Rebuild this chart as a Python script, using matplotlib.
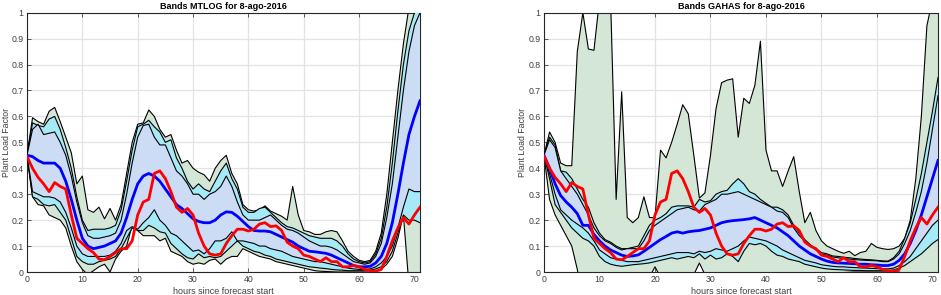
import numpy as np
import matplotlib
matplotlib.use("Agg")
import matplotlib.pyplot as plt

hours = np.arange(72)

observed = [0.445, 0.40, 0.365, 0.34, 0.31, 0.345, 0.33, 0.32, 0.22, 0.13,
            0.11, 0.09, 0.075, 0.05, 0.047, 0.06, 0.075, 0.09, 0.09, 0.12,
            0.22, 0.27, 0.28, 0.38, 0.39, 0.36, 0.31, 0.25, 0.23, 0.245,
            0.22, 0.15, 0.10, 0.07, 0.065, 0.07, 0.11, 0.14, 0.165, 0.165,
            0.158, 0.165, 0.185, 0.19, 0.175, 0.178, 0.16, 0.115, 0.10, 0.09,
            0.065, 0.06, 0.05, 0.04, 0.055, 0.04, 0.04, 0.02, 0.02, 0.025,
            0.02, 0.01, 0.005, 0.003, 0.01, 0.06, 0.12, 0.17, 0.21, 0.185,
            0.22, 0.25]

# ---------------- MTLOG ----------------
mt_median = [0.45, 0.445, 0.43, 0.42, 0.42, 0.42, 0.40, 0.35, 0.28, 0.20,
             0.13, 0.10, 0.09, 0.095, 0.10, 0.11, 0.12, 0.15, 0.21, 0.28,
             0.34, 0.37, 0.38, 0.37, 0.35, 0.32, 0.29, 0.26, 0.245, 0.225,
             0.205, 0.195, 0.19, 0.19, 0.20, 0.22, 0.232, 0.23, 0.215, 0.195,
             0.175, 0.16, 0.158, 0.158, 0.155, 0.145, 0.135, 0.125, 0.115, 0.10,
             0.09, 0.08, 0.078, 0.075, 0.072, 0.065, 0.055, 0.045, 0.035, 0.025,
             0.02, 0.02, 0.022, 0.035, 0.06, 0.11, 0.19, 0.30, 0.42, 0.53,
             0.60, 0.66]
mt_q90_hi = [0.45, 0.595, 0.58, 0.57, 0.62, 0.635, 0.58, 0.52, 0.46, 0.34,
             0.37, 0.24, 0.23, 0.25, 0.205, 0.245, 0.20, 0.26, 0.38, 0.50,
             0.57, 0.575, 0.625, 0.60, 0.55, 0.52, 0.53, 0.47, 0.42, 0.43,
             0.40, 0.385, 0.375, 0.35, 0.40, 0.43, 0.45, 0.38, 0.34, 0.26,
             0.24, 0.235, 0.24, 0.255, 0.235, 0.225, 0.215, 0.20, 0.33, 0.22,
             0.16, 0.155, 0.145, 0.145, 0.155, 0.16, 0.155, 0.12, 0.08, 0.06,
             0.045, 0.04, 0.045, 0.08, 0.15, 0.30, 0.50, 0.70, 0.88, 1.02,
             1.05, 1.05]
mt_q80_hi = [0.45, 0.575, 0.565, 0.56, 0.59, 0.60, 0.55, 0.48, 0.40, 0.29,
             0.20, 0.16, 0.165, 0.165, 0.165, 0.17, 0.18, 0.24, 0.35, 0.47,
             0.56, 0.57, 0.585, 0.56, 0.54, 0.50, 0.51, 0.44, 0.40, 0.35,
             0.32, 0.34, 0.32, 0.31, 0.35, 0.39, 0.42, 0.36, 0.32, 0.25,
             0.23, 0.23, 0.245, 0.25, 0.23, 0.21, 0.19, 0.175, 0.17, 0.16,
             0.15, 0.14, 0.135, 0.13, 0.13, 0.13, 0.12, 0.10, 0.07, 0.05,
             0.04, 0.035, 0.04, 0.07, 0.13, 0.25, 0.42, 0.62, 0.80, 0.93,
             1.0, 1.02]
mt_q50_hi = [0.45, 0.55, 0.57, 0.53, 0.535, 0.54, 0.50, 0.45, 0.37, 0.27,
             0.19, 0.14, 0.13, 0.13, 0.135, 0.14, 0.15, 0.20, 0.30, 0.42,
             0.52, 0.565, 0.57, 0.52, 0.49, 0.49, 0.44, 0.39, 0.37, 0.34,
             0.30, 0.30, 0.28, 0.30, 0.31, 0.33, 0.37, 0.33, 0.27, 0.22,
             0.20, 0.20, 0.20, 0.21, 0.22, 0.20, 0.18, 0.165, 0.16, 0.15,
             0.135, 0.12, 0.11, 0.10, 0.10, 0.095, 0.085, 0.07, 0.055, 0.04,
             0.035, 0.03, 0.035, 0.06, 0.11, 0.21, 0.34, 0.52, 0.70, 0.85,
             0.95, 1.0]
mt_q50_lo = [0.45, 0.31, 0.30, 0.29, 0.29, 0.285, 0.27, 0.23, 0.17, 0.10,
             0.07, 0.06, 0.06, 0.06, 0.06, 0.065, 0.08, 0.11, 0.16, 0.175,
             0.165, 0.19, 0.21, 0.24, 0.20, 0.18, 0.15, 0.14, 0.12, 0.10,
             0.08, 0.085, 0.07, 0.09, 0.12, 0.12, 0.13, 0.155, 0.12, 0.12,
             0.115, 0.11, 0.10, 0.10, 0.09, 0.085, 0.08, 0.07, 0.06, 0.055,
             0.05, 0.045, 0.04, 0.04, 0.035, 0.03, 0.025, 0.02, 0.015, 0.012,
             0.01, 0.01, 0.012, 0.02, 0.035, 0.06, 0.10, 0.17, 0.25, 0.32,
             0.31, 0.31]
mt_q80_lo = [0.45, 0.29, 0.28, 0.26, 0.255, 0.26, 0.23, 0.20, 0.13, 0.06,
             0.04, 0.03, 0.03, 0.04, 0.045, 0.05, 0.06, 0.09, 0.13, 0.17,
             0.16, 0.16, 0.18, 0.17, 0.155, 0.15, 0.11, 0.09, 0.07, 0.055,
             0.05, 0.07, 0.055, 0.06, 0.055, 0.06, 0.08, 0.10, 0.12, 0.10,
             0.09, 0.08, 0.075, 0.065, 0.06, 0.05, 0.045, 0.04, 0.035, 0.03,
             0.025, 0.02, 0.018, 0.015, 0.013, 0.01, 0.008, 0.007, 0.005, 0.005,
             0.005, 0.005, 0.007, 0.012, 0.02, 0.04, 0.08, 0.15, 0.22, 0.20,
             0.20, 0.19]
mt_q90_lo = [0.45, 0.29, 0.26, 0.255, 0.22, 0.21, 0.20, 0.17, 0.10, 0.04,
             0.01, -0.01, 0.005, 0.02, 0.03, 0.0, 0.05, 0.08, 0.10, 0.18,
             0.16, 0.14, 0.14, 0.14, 0.12, 0.13, 0.08, 0.07, 0.06, 0.04,
             0.03, 0.035, 0.03, 0.045, 0.05, 0.03, 0.05, 0.06, 0.06, 0.09,
             0.08, 0.07, 0.06, 0.055, 0.05, 0.04, 0.035, 0.03, 0.025, 0.02,
             0.015, 0.01, 0.005, 0.003, 0.002, 0.001, 0.0, 0.0, 0.0, 0.0,
             0.0, 0.0, 0.0, 0.002, 0.01, 0.03, 0.06, 0.13, 0.22, -0.05,
             -0.05, -0.05]

# ---------------- GAHAS ----------------
ga_median = [0.45, 0.40, 0.34, 0.295, 0.27, 0.25, 0.225, 0.18, 0.18, 0.145,
             0.12, 0.10, 0.085, 0.075, 0.065, 0.06, 0.062, 0.066, 0.08, 0.095,
             0.11, 0.125, 0.137, 0.15, 0.155, 0.15, 0.155, 0.158, 0.16, 0.165,
             0.17, 0.18, 0.19, 0.195, 0.198, 0.20, 0.202, 0.205, 0.21, 0.20,
             0.19, 0.18, 0.17, 0.155, 0.14, 0.12, 0.10, 0.085, 0.07, 0.06,
             0.05, 0.042, 0.037, 0.035, 0.034, 0.033, 0.032, 0.03, 0.03, 0.028,
             0.027, 0.025, 0.025, 0.03, 0.045, 0.07, 0.11, 0.16, 0.22, 0.29,
             0.36, 0.43]
ga_q90_hi = [0.45, 0.54, 0.50, 0.42, 0.41, 0.41, 0.85, 1.0, 0.86, 0.855,
             1.05, 1.05, 1.05, 0.28, 0.695, 0.21, 0.19, 0.21, 0.29, 0.21,
             0.21, 0.47, 0.44, 0.50, 0.57, 0.645, 0.61, 0.45, 0.285, 0.305,
             0.45, 0.63, 0.73, 0.74, 0.745, 0.52, 0.67, 0.65, 0.72, 0.89,
             0.47, 0.39, 0.39, 0.33, 0.39, 0.445, 0.31, 0.19, 0.23, 0.16,
             0.12, 0.10, 0.09, 0.08, 0.072, 0.08, 0.063, 0.075, 0.08, 0.11,
             0.095, 0.09, 0.087, 0.09, 0.10, 0.13, 0.20, 0.36, 0.60, 0.95,
             1.05, 1.05]
ga_q80_hi = [0.45, 0.52, 0.49, 0.39, 0.385, 0.36, 0.32, 0.28, 0.25, 0.19,
             0.15, 0.125, 0.115, 0.10, 0.09, 0.09, 0.095, 0.10, 0.14, 0.18,
             0.20, 0.21, 0.225, 0.25, 0.255, 0.255, 0.255, 0.25, 0.28, 0.27,
             0.275, 0.30, 0.31, 0.315, 0.34, 0.36, 0.34, 0.31, 0.30, 0.28,
             0.265, 0.25, 0.25, 0.24, 0.22, 0.18, 0.15, 0.125, 0.105, 0.09,
             0.075, 0.07, 0.062, 0.06, 0.057, 0.055, 0.052, 0.05, 0.048, 0.047,
             0.045, 0.043, 0.042, 0.055, 0.08, 0.13, 0.19, 0.28, 0.38, 0.50,
             0.62, 0.75]
ga_q50_hi = [0.45, 0.51, 0.48, 0.39, 0.36, 0.33, 0.30, 0.26, 0.22, 0.17,
             0.14, 0.12, 0.11, 0.095, 0.085, 0.09, 0.09, 0.09, 0.12, 0.16,
             0.18, 0.195, 0.21, 0.225, 0.24, 0.245, 0.25, 0.24, 0.235, 0.26,
             0.27, 0.28, 0.30, 0.30, 0.305, 0.31, 0.30, 0.29, 0.28, 0.27,
             0.26, 0.25, 0.235, 0.23, 0.21, 0.17, 0.14, 0.12, 0.10, 0.085,
             0.07, 0.065, 0.058, 0.055, 0.052, 0.05, 0.048, 0.046, 0.045, 0.044,
             0.043, 0.04, 0.04, 0.05, 0.07, 0.11, 0.16, 0.23, 0.31, 0.42,
             0.55, 0.68]
ga_q50_lo = [0.45, 0.38, 0.30, 0.24, 0.22, 0.20, 0.185, 0.17, 0.15, 0.12,
             0.085, 0.07, 0.055, 0.05, 0.045, 0.04, 0.04, 0.04, 0.045, 0.05,
             0.055, 0.06, 0.065, 0.07, 0.075, 0.075, 0.075, 0.07, 0.08, 0.075,
             0.08, 0.09, 0.085, 0.08, 0.09, 0.10, 0.12, 0.135, 0.13, 0.125,
             0.12, 0.11, 0.10, 0.085, 0.075, 0.065, 0.055, 0.045, 0.04, 0.035,
             0.028, 0.025, 0.022, 0.02, 0.02, 0.018, 0.017, 0.016, 0.015, 0.014,
             0.013, 0.012, 0.012, 0.015, 0.025, 0.04, 0.06, 0.09, 0.12, 0.15,
             0.18, 0.20]
ga_q80_lo = [0.45, 0.36, 0.26, 0.23, 0.20, 0.17, 0.15, 0.13, 0.12, 0.10,
             0.06, 0.04, 0.03, 0.025, 0.022, 0.025, 0.028, 0.03, 0.032, 0.035,
             0.04, 0.045, 0.05, 0.055, 0.05, 0.055, 0.06, 0.055, 0.07, 0.05,
             0.065, 0.05, 0.055, 0.07, 0.06, 0.04, 0.08, 0.11, 0.105, 0.11,
             0.10, 0.08, 0.065, 0.06, 0.05, 0.045, 0.04, 0.03, 0.025, 0.02,
             0.015, 0.012, 0.01, 0.009, 0.008, 0.007, 0.006, 0.006, 0.005, 0.005,
             0.005, 0.005, 0.005, 0.008, 0.015, 0.025, 0.04, 0.055, 0.07, 0.09,
             0.11, 0.125]
ga_q90_lo = [0.45, 0.28, 0.22, 0.18, 0.14, 0.10, 0.01, -0.10, -0.10, -0.10,
             -0.10, -0.10, -0.10, -0.10, -0.10, -0.10, -0.10, -0.08, -0.05, -0.02,
             0.02, -0.02, -0.05, -0.05, -0.05, -0.05, -0.05, -0.01, 0.035, -0.01,
             -0.05, -0.05, -0.05, -0.05, -0.05, -0.05, -0.05, -0.05, -0.05, -0.05,
             -0.05, -0.05, -0.05, -0.05, -0.05, -0.05, -0.05, -0.04, -0.03, -0.02,
             -0.015, -0.01, -0.005, -0.003, -0.002, -0.001, 0.0, 0.0, 0.0, 0.0,
             0.0, 0.0, 0.0, 0.0, 0.0, -0.01, -0.01, -0.01, -0.01, -0.01,
             -0.01, -0.01]

titles = ["Bands MTLOG for 8-ago-2016", "Bands GAHAS for 8-ago-2016"]
xticks = [0, 10, 20, 30, 40, 50, 60, 70]
yticks = [0, 0.1, 0.2, 0.3, 0.4, 0.5, 0.6, 0.7, 0.8, 0.9, 1]
ytick_labels = ["0", "0.1", "0.2", "0.3", "0.4", "0.5", "0.6", "0.7", "0.8", "0.9", "1"]

GREEN = "#d4e6d6"
CYAN = "#a6e9f7"
LBLUE = "#cddcf5"

plt.rcParams['font.family'] = ['Liberation Sans', 'DejaVu Sans']

fig = plt.figure(figsize=(9.41, 2.95), dpi=100)
ax1 = fig.add_axes([27 / 941, 23 / 295, 393 / 941, 259.3 / 295])
ax2 = fig.add_axes([544 / 941, 23 / 295, 394 / 941, 259.3 / 295])

panels = [
    (ax1, mt_median, [(mt_q90_lo, mt_q90_hi, GREEN), (mt_q80_lo, mt_q80_hi, CYAN), (mt_q50_lo, mt_q50_hi, LBLUE)]),
    (ax2, ga_median, [(ga_q90_lo, ga_q90_hi, GREEN), (ga_q80_lo, ga_q80_hi, CYAN), (ga_q50_lo, ga_q50_hi, LBLUE)]),
]

for (ax, med, bands), title in zip(panels, titles):
    ax.set_axisbelow(True)
    ax.grid(True, color="#e3e3e3", linewidth=0.9, zorder=0)
    z = 2
    for lo, hi, col in bands:
        ax.fill_between(hours, lo, hi, facecolor=col, edgecolor="none", zorder=z)
        ax.plot(hours, hi, color="black", linewidth=0.8, zorder=z + 0.5)
        ax.plot(hours, lo, color="black", linewidth=0.8, zorder=z + 0.5)
        z += 1
    ax.plot(hours, med, color="#0000ff", linewidth=2.0, zorder=10)
    ax.plot(hours, observed, color="#ff0000", linewidth=2.0, zorder=11)
    ax.set_xlim(0, 71)
    ax.set_ylim(0, 1)
    ax.set_xticks(xticks)
    ax.set_yticks(yticks)
    ax.set_yticklabels(ytick_labels)
    ax.tick_params(direction="in", length=3, width=0.6, labelsize=6.3,
                   colors="#404040", top=True, right=True, pad=2.5)
    for s in ax.spines.values():
        s.set_linewidth(0.8)
        s.set_color("#262626")
    ax.set_title(title, fontsize=6.5, fontweight="bold", pad=3)
    ax.set_xlabel("hours since forecast start", fontsize=6.5, color="#404040", labelpad=1.5)
    ax.set_ylabel("Plant Load Factor", fontsize=6.3, color="#404040", va="center")
    ax.yaxis.set_label_coords(-21.0 / 393, 0.5)

fig.savefig("out.png", dpi=100)
